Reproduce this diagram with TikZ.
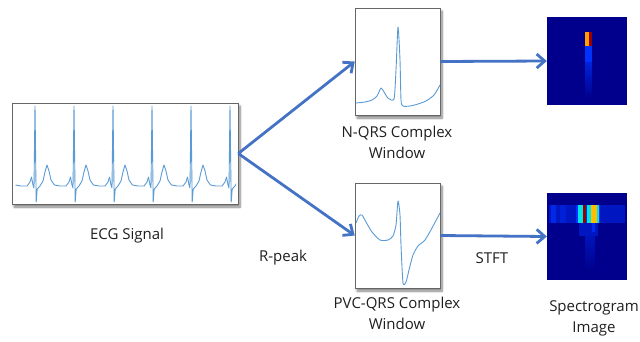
\documentclass[tikz,border=0pt]{standalone}
\usepackage{fontspec}
\setmainfont{Open Sans}
\usetikzlibrary{arrows.meta,shadows.blur}
\definecolor{arr}{HTML}{4472C4}
\definecolor{wave}{HTML}{5B9BD5}
\definecolor{sbg}{RGB}{0,0,140}
\definecolor{sblue}{RGB}{0,50,255}
\definecolor{scyan}{RGB}{0,230,230}
\definecolor{sred}{RGB}{150,0,0}
\definecolor{syel}{RGB}{255,190,0}
\definecolor{sorange}{RGB}{255,160,0}
\begin{document}
\begin{tikzpicture}[x=1pt,y=-1pt,
  panel/.style={draw=gray!80!black,line width=0.6pt,fill=white,inner sep=0pt,
    blur shadow={shadow xshift=2pt,shadow yshift=-3pt,shadow blur steps=8,shadow opacity=50}},
  spec/.style={fill=sbg,inner sep=0pt},
  flow/.style={draw=arr,line width=2.8pt,-{Straight Barb[length=8pt,width=14pt,line width=2.8pt]}},
  lbl/.style={font=\fontsize{15}{21}\selectfont,align=center,text=black!88},
  trace/.style={draw=wave,line width=0.9pt,line join=round}]
\useasboundingbox (0,0) rectangle (640,341);

% panels
\node[panel,minimum width=226pt,minimum height=101pt] (ecg) at (125,153.5) {};
\node[panel,minimum width=85pt,minimum height=107pt] (nqrs) at (397.5,61.5) {};
\node[panel,minimum width=85pt,minimum height=105pt] (pvc) at (397.5,235.5) {};
\node[spec,minimum width=80pt,minimum height=88pt] (sp1) at (587,61) {};
\node[spec,minimum width=80pt,minimum height=87pt] (sp2) at (587,236.5) {};

% ECG trace
\begin{scope}
\clip (15,103) rectangle (236,204);
\foreach \r in {35,74,113,152,191,230}{
  \draw[trace,line width=0.9pt] plot coordinates {
    (\r-19.5,185) (\r-14,186) (\r-8,186) (\r-5,182) (\r-3.5,177) (\r-2,185) (\r-1,188)
    (\r,106) (\r+1.2,202) (\r+2.2,189) (\r+5,186) (\r+8,181) (\r+10,172) (\r+12,165)
    (\r+14,171) (\r+16,180) (\r+18,183) (\r+19.5,185)};
}
\end{scope}

% N-QRS trace
\draw[trace] plot[smooth,tension=0.4] coordinates {
  (356,103) (365,102) (372,100) (377,96) (381,88) (384,92) (388,98) (394,99)
  (396,70) (398,27) (400,60) (401,100) (403,106) (410,106) (418,104) (426,101) (434,95) (440,85)};

% PVC trace
\draw[trace] plot[smooth,tension=0.4] coordinates {
  (356,223) (359,216) (362,215) (366,222) (372,232) (380,240) (388,240) (393,236)
  (396,225) (398,201) (400,215) (401,245) (403,283) (406,282) (409,270) (413,255)
  (418,246) (425,240) (432,228) (440,213)};

% spectrogram 1 details
\shade[top color=sblue,bottom color=sbg] (585,46) rectangle (592,98);
\fill[sblue] (585,46) rectangle (592,62);
\fill[sorange] (585,32) rectangle (589,46);
\fill[sred] (589,32) rectangle (592,46);

% spectrogram 2 details
\fill[sblue!45!sbg] (549,205) rectangle (625,223);
\fill[sblue!80!sbg] (551,205) rectangle (556,223);
\fill[sblue!65!sbg] (560,205) rectangle (566,223);
\fill[sblue] (576,205) rectangle (600,223);
\fill[scyan] (578,205) rectangle (583,223);
\fill[sred] (583,205) rectangle (586,223);
\fill[scyan] (587,205) rectangle (591,223);
\fill[syel] (591,205) rectangle (597,223);
\fill[scyan] (597,205) rectangle (599,223);
\fill[sblue!45!sbg] (579,223) rectangle (598,236);
\fill[sblue!90!sbg] (592,223) rectangle (595,232);
\shade[top color=sblue!40!sbg,bottom color=sbg] (585,236) rectangle (595,270);

% arrows
\draw[flow] (ecg.east) -- (nqrs.west);
\draw[flow] (ecg.east) -- (pvc.west);
\draw[flow] (nqrs.east) -- (sp1.west);
\draw[flow] (pvc.east) -- (sp2.west);

% labels
\node[lbl] (lecg) at (127,236) {ECG Signal};
\node[lbl] (lr) at (283,258) {R-peak};
\node[lbl] (lstft) at (492,258) {STFT};
\node[lbl] (ln) at (397,142) {N-QRS Complex\\Window};
\node[lbl] (lp) at (397,313) {PVC-QRS Complex\\Window};
\node[lbl] (ls) at (594,318) {Spectrogram\\Image};
\end{tikzpicture}
\end{document}
